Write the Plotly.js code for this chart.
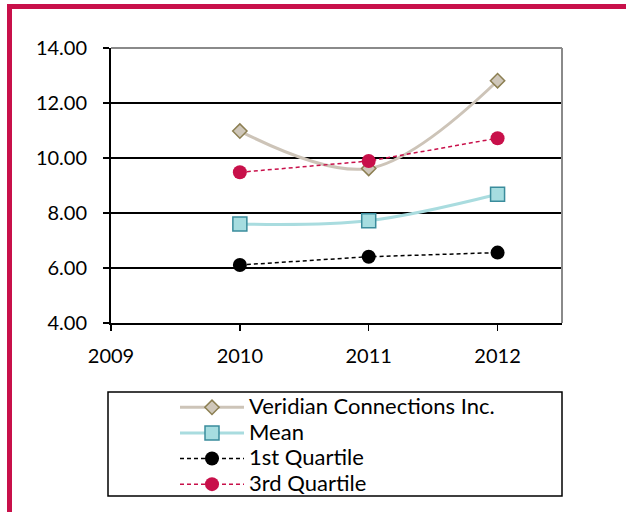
<!DOCTYPE html>
<html><head><meta charset="utf-8">
<script src="https://cdn.plot.ly/plotly-3.0.1.min.js"></script>
<style>html,body{margin:0;padding:0;overflow:hidden;background:#fff;width:626px;height:512px}
#chart{position:absolute;left:0;top:0;width:626px;height:512px}
#frame{position:absolute;left:7px;top:4px;width:1000px;height:1000px;border-left:5px solid #C8104A;border-top:5px solid #C8104A;pointer-events:none}
</style></head><body>
<div id="chart"></div><div id="frame"></div>
<script>
const years = [2010, 2011, 2012];
const veridian = [10.98, 9.62, 12.81];
const meanVals = [7.60, 7.72, 8.68];
const q1 = [6.11, 6.41, 6.56];
const q3 = [9.48, 9.89, 10.72];
const seriesNames = ['Veridian Connections Inc.', 'Mean', '1st Quartile', '3rd Quartile'];
const xTicks = [2009, 2010, 2011, 2012];
const yTicks = [4, 6, 8, 10, 12, 14];

const FONT = 'Lato, "Open Sans", sans-serif';
const big = s => '<span style="font-size:22px">' + s + '</span>';
const traces = [
  {x: years, y: veridian, name: big(seriesNames[0]), mode: 'lines+markers',
   line: {color: '#CDC4B8', width: 3, shape: 'spline'},
   marker: {symbol: 'diamond', size: 11, color: '#CFC7BA', line: {color: '#8C7F52', width: 1.5}}},
  {x: years, y: meanVals, name: big(seriesNames[1]), mode: 'lines+markers',
   line: {color: '#A9DCDF', width: 3, shape: 'spline'},
   marker: {symbol: 'square', size: 14, color: '#A6DDE0', line: {color: '#3A8C9C', width: 1.5}}},
  {x: years, y: q1, name: big(seriesNames[2]), mode: 'lines+markers',
   line: {color: '#000000', width: 1.5, dash: '4px,3px'},
   marker: {symbol: 'circle', size: 14, color: '#000000'}},
  {x: years, y: q3, name: big(seriesNames[3]), mode: 'lines+markers',
   line: {color: '#C8104A', width: 1.5, dash: '4px,3px'},
   marker: {symbol: 'circle', size: 14, color: '#C8104A'}}
];

const L = 111, R = 64, T = 48, B = 189, W = 626, H = 512;
const pw = W - L - R, ph = H - T - B;
const px = v => (v - L) / pw;
const py = v => (H - B - v) / ph;

const layout = {
  width: W, height: H,
  margin: {l: L, r: R, t: T, b: B, autoexpand: false},
  paper_bgcolor: 'rgba(0,0,0,0)', plot_bgcolor: '#fff',
  font: {family: FONT, size: 20, color: '#000'},
  showlegend: true,
  xaxis: {range: [2009, 2012.5], tickvals: xTicks, ticktext: xTicks.map(String),
    showgrid: false, zeroline: false, showline: true, linecolor: '#000', linewidth: 2,
    ticks: 'outside', ticklen: 6, tickwidth: 1.5, tickcolor: '#000', ticklabelstandoff: 8,
    tickfont: {family: FONT, size: 20, color: '#000'}},
  yaxis: {range: [4, 14], tickvals: yTicks, tickformat: '.2f',
    showgrid: true, gridcolor: '#000', gridwidth: 2, zeroline: false,
    showline: true, linecolor: '#000', linewidth: 2,
    ticks: 'outside', ticklen: 6, tickwidth: 1.5, tickcolor: '#000', ticklabelstandoff: 12,
    tickfont: {family: FONT, size: 20, color: '#000'}},
  legend: {x: px(175), y: py(389.5), xanchor: 'left', yanchor: 'top', xref: 'paper', yref: 'paper',
    bgcolor: 'rgba(0,0,0,0)', borderwidth: 0, itemwidth: 64, tracegroupgap: 0,
    font: {family: FONT, size: 17.4, color: '#000'}},
  shapes: [
    {type: 'line', xref: 'paper', yref: 'paper', x0: 0, x1: 1, y0: 1, y1: 1, line: {color: '#8A8A8A', width: 2}, layer: 'above'},
    {type: 'line', xref: 'paper', yref: 'paper', x0: 1, x1: 1, y0: 0, y1: 1, line: {color: '#8A8A8A', width: 2}, layer: 'above'},
    {type: 'rect', xref: 'paper', yref: 'paper', x0: px(108), x1: px(562), y0: py(496), y1: py(392), line: {color: '#000', width: 1.5}, fillcolor: 'rgba(0,0,0,0)', layer: 'above'}
  ]
};
Plotly.newPlot('chart', traces, layout, {staticPlot: true, displayModeBar: false});
</script></body></html>
